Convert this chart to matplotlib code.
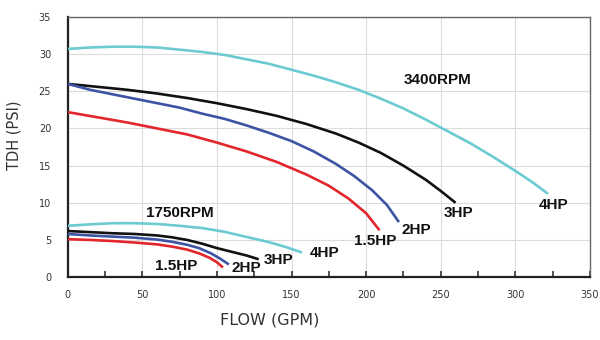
import matplotlib
matplotlib.use('Agg')
import matplotlib.pyplot as plt
from matplotlib.ticker import MultipleLocator

# pump curves (flow in GPM, head in PSI)
flow_4hp_3400 = [0, 15, 30, 45, 60, 75, 90, 105, 120, 135, 150, 165, 180, 195, 210,
                 225, 240, 255, 270, 285, 300, 312, 322]
tdh_4hp_3400 = [30.7, 30.9, 31.0, 31.0, 30.9, 30.6, 30.3, 29.9, 29.3, 28.7, 27.9, 27.1,
                26.2, 25.2, 24.0, 22.7, 21.2, 19.6, 18.0, 16.2, 14.3, 12.7, 11.2]

flow_3hp_3400 = [0, 20, 40, 60, 80, 100, 120, 140, 160, 180, 195, 210, 225, 240, 250, 260]
tdh_3hp_3400 = [26.0, 25.6, 25.2, 24.7, 24.1, 23.4, 22.6, 21.7, 20.6, 19.3, 18.1, 16.7,
                15.0, 13.1, 11.6, 10.0]

flow_2hp_3400 = [0, 15, 30, 45, 60, 75, 90, 105, 120, 135, 150, 165, 180, 192, 204, 214, 222]
tdh_2hp_3400 = [26.0, 25.2, 24.6, 24.0, 23.4, 22.8, 22.0, 21.3, 20.4, 19.4, 18.3, 16.9,
                15.2, 13.6, 11.7, 9.7, 7.4]

flow_15hp_3400 = [0, 20, 40, 60, 80, 100, 120, 140, 160, 175, 188, 200, 209]
tdh_15hp_3400 = [22.2, 21.5, 20.8, 20.0, 19.2, 18.1, 16.9, 15.5, 13.8, 12.3, 10.6, 8.6, 6.3]

flow_4hp_1750 = [0, 15, 30, 45, 60, 75, 90, 105, 120, 135, 147, 157]
tdh_4hp_1750 = [6.9, 7.1, 7.25, 7.25, 7.15, 6.9, 6.6, 6.1, 5.4, 4.7, 4.0, 3.3]

flow_3hp_1750 = [0, 15, 30, 45, 60, 70, 80, 90, 100, 110, 120, 128]
tdh_3hp_1750 = [6.2, 6.05, 5.9, 5.8, 5.6, 5.35, 5.0, 4.5, 3.9, 3.4, 2.9, 2.4]

flow_2hp_1750 = [0, 15, 30, 45, 60, 70, 80, 88, 96, 102, 108]
tdh_2hp_1750 = [5.8, 5.6, 5.45, 5.3, 5.05, 4.75, 4.35, 3.9, 3.2, 2.5, 1.7]

flow_15hp_1750 = [0, 15, 30, 45, 60, 70, 80, 88, 95, 100, 104]
tdh_15hp_1750 = [5.1, 5.0, 4.85, 4.65, 4.4, 4.1, 3.7, 3.2, 2.6, 2.0, 1.3]

CYAN = '#6ccad2'
BLACK = '#111111'
BLUE = '#3d53a3'
RED = '#e2262c'

fig = plt.figure(figsize=(6, 3.4), dpi=100)
ax = fig.add_axes([0.113, 0.185, 0.87, 0.765])

curves = [
    (flow_4hp_3400, tdh_4hp_3400, CYAN),
    (flow_3hp_3400, tdh_3hp_3400, BLACK),
    (flow_2hp_3400, tdh_2hp_3400, BLUE),
    (flow_15hp_3400, tdh_15hp_3400, RED),
    (flow_4hp_1750, tdh_4hp_1750, CYAN),
    (flow_3hp_1750, tdh_3hp_1750, BLACK),
    (flow_2hp_1750, tdh_2hp_1750, BLUE),
    (flow_15hp_1750, tdh_15hp_1750, RED),
]
for x, y, c in curves:
    ax.plot(x, y, color=c, linewidth=1.9, solid_capstyle='butt',
            solid_joinstyle='round', zorder=3)

# curve labels
lab = dict(fontsize=11, fontweight='bold', family='Liberation Sans', color='#111111',
           ha='center', va='center', zorder=4)
ax.text(248, 26.5, '3400RPM', **lab)
ax.text(75, 8.6, '1750RPM', **lab)
ax.text(206, 4.85, '1.5HP', **lab)
ax.text(234, 6.3, '2HP', **lab)
ax.text(262, 8.6, '3HP', **lab)
ax.text(326, 9.7, '4HP', **lab)
ax.text(73, 1.5, '1.5HP', **lab)
ax.text(120, 1.2, '2HP', **lab)
ax.text(141, 2.3, '3HP', **lab)
ax.text(172, 3.2, '4HP', **lab)

ax.set_xlim(0, 350)
ax.set_ylim(0, 35)
ax.xaxis.set_major_locator(MultipleLocator(50))
ax.xaxis.set_minor_locator(MultipleLocator(25))
ax.yaxis.set_major_locator(MultipleLocator(5))
ax.grid(True, which='major', color='#dcdcdc', linewidth=0.8, zorder=0)

ax.tick_params(axis='x', which='both', direction='in', length=4, width=1.2,
               color='#333333', labelsize=7, labelcolor='#333333', pad=9)
ax.tick_params(axis='y', which='both', length=0, labelsize=7,
               labelcolor='#333333', pad=12)

for side in ['left', 'bottom']:
    ax.spines[side].set_color('#222222')
    ax.spines[side].set_linewidth(1.6)
for side in ['top', 'right']:
    ax.spines[side].set_color('#666666')
    ax.spines[side].set_linewidth(1.0)

# axis titles sit off-centre in the original
ax.set_xlabel('FLOW (GPM)', fontsize=11.5, color='#333333')
ax.xaxis.set_label_coords(0.387, -0.135)
ax.set_ylabel('TDH (PSI)', fontsize=10.5, color='#333333')
ax.yaxis.set_label_coords(-0.088, 0.546)

fig.savefig('out.png', dpi=100)
